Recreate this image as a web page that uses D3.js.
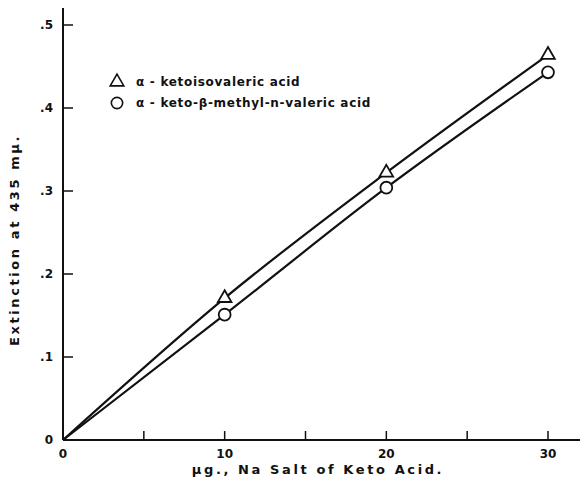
<!DOCTYPE html>
<html>
<head>
<meta charset="utf-8">
<script src="https://cdn.jsdelivr.net/npm/d3@7"></script>
<style>
  body { margin: 0; background: #fff; }
  text { font-family: "DejaVu Sans", sans-serif; font-weight: bold; fill: #111; }
</style>
</head>
<body>
<div id="chart"></div>
<script>
// Data (x in µg, y in extinction)
var amounts = [0, 10, 20, 30];
var ketoisovaleric = [0, 0.171, 0.322, 0.464];
var ketoMethylValeric = [0, 0.151, 0.304, 0.443];
var xTicks = [0, 10, 20, 30];
var xMinorTicks = [5, 15, 25];
var yTicks = [0, 0.1, 0.2, 0.3, 0.4, 0.5];
var yTickLabels = ["0", ".1", ".2", ".3", ".4", ".5"];

var width = 583, height = 490;

var svg = d3.select("#chart")
    .append("svg")
    .attr("width", width)
    .attr("height", height);

// scales: 0 -> 63px, 30 -> 548px ; 0 -> 440px, .5 -> 25px
var x = d3.scaleLinear().domain([0, 30]).range([63, 548]);
var y = d3.scaleLinear().domain([0, 0.5]).range([440, 25]);

// axes lines
svg.append("line")
    .attr("x1", x(0)).attr("x2", width - 3)
    .attr("y1", y(0)).attr("y2", y(0))
    .attr("stroke", "#111").attr("stroke-width", 2);
svg.append("line")
    .attr("x1", x(0)).attr("x2", x(0))
    .attr("y1", y(0)).attr("y2", 8)
    .attr("stroke", "#111").attr("stroke-width", 2);

// x ticks (pointing up into plot)
svg.selectAll(".xtick")
    .data(xTicks.slice(1).concat(xMinorTicks))
    .enter().append("line")
    .attr("x1", d => x(d)).attr("x2", d => x(d))
    .attr("y1", y(0)).attr("y2", y(0) - 9)
    .attr("stroke", "#111").attr("stroke-width", 1.5);
svg.selectAll(".xlabel")
    .data(xTicks)
    .enter().append("text")
    .attr("x", d => x(d))
    .attr("y", y(0) + 18)
    .attr("text-anchor", "middle")
    .style("font-size", "12px")
    .text(d => d);

// y ticks (pointing right into plot)
svg.selectAll(".ytick")
    .data(yTicks.slice(1))
    .enter().append("line")
    .attr("x1", x(0)).attr("x2", x(0) + 10)
    .attr("y1", d => y(d)).attr("y2", d => y(d))
    .attr("stroke", "#111").attr("stroke-width", 1.5);
svg.selectAll(".ylabel")
    .data(yTicks)
    .enter().append("text")
    .attr("x", 53)
    .attr("y", d => y(d) + 4)
    .attr("text-anchor", "end")
    .style("font-size", "12px")
    .text((d, i) => yTickLabels[i]);

// axis titles
svg.append("text")
    .attr("x", 318).attr("y", 474)
    .attr("text-anchor", "middle")
    .style("font-size", "13px")
    .style("letter-spacing", "2.6px")
    .text("μg., Na Salt of Keto Acid.");
svg.append("text")
    .attr("transform", "translate(19,240) rotate(-90)")
    .attr("text-anchor", "middle")
    .style("font-size", "13px")
    .style("letter-spacing", "2.6px")
    .text("Extinction at 435 mμ.");

// curves
var line = d3.line()
    .x(d => x(d[0]))
    .y(d => y(d[1]))
    .curve(d3.curveMonotoneX);

var series = [
    { name: "α - ketoisovaleric acid", values: ketoisovaleric, symbol: d3.symbolTriangle },
    { name: "α - keto-β-methyl-n-valeric acid", values: ketoMethylValeric, symbol: d3.symbolCircle }
];

series.forEach(function (s) {
    var pts = amounts.map((a, i) => [a, s.values[i]]);
    svg.append("path")
        .attr("d", line(pts))
        .attr("fill", "none")
        .attr("stroke", "#111")
        .attr("stroke-width", 2.2);
    svg.selectAll(null)
        .data(pts.slice(1))
        .enter().append("path")
        .attr("transform", d => "translate(" + x(d[0]) + "," + y(d[1]) + ")")
        .attr("d", d3.symbol().type(s.symbol).size(s.symbol === d3.symbolCircle ? 110 : 80))
        .attr("fill", "#fff")
        .attr("stroke", "#111")
        .attr("stroke-width", 1.8);
});

// legend
var legend = svg.append("g").attr("transform", "translate(117,82)");
series.forEach(function (s, i) {
    legend.append("path")
        .attr("transform", "translate(0," + (i * 21) + ")")
        .attr("d", d3.symbol().type(s.symbol).size(s.symbol === d3.symbolCircle ? 100 : 80))
        .attr("fill", "#fff")
        .attr("stroke", "#111")
        .attr("stroke-width", 1.6);
    legend.append("text")
        .attr("x", 19)
        .attr("y", i * 21 + 4)
        .style("font-size", "12px")
        .style("letter-spacing", "0.7px")
        .text(s.name);
});
</script>
</body>
</html>
